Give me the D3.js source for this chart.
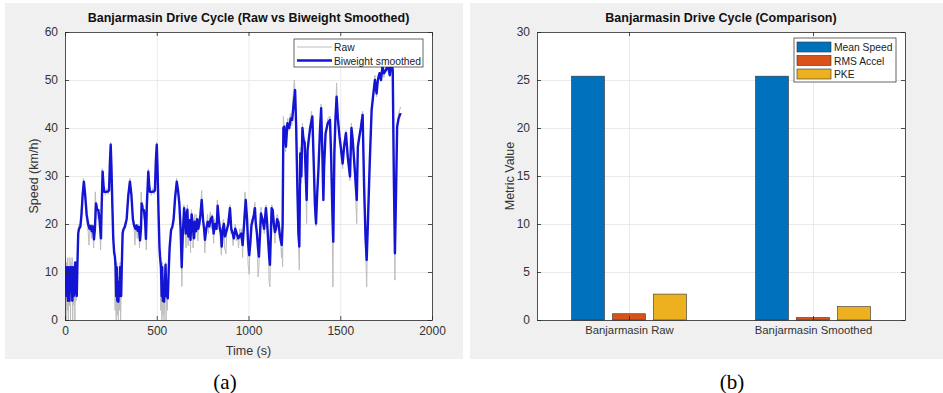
<!DOCTYPE html>
<html>
<head>
<meta charset="utf-8">
<script src="https://cdn.jsdelivr.net/npm/d3@7"></script>
<style>
  body { margin: 0; background: #fff; }
  svg text { font-family: "Liberation Sans", Arial, Helvetica, sans-serif; }
  .axis path, .axis line { stroke: #262626; stroke-width: 0.8px; }
  .axis text { fill: #333; font-size: 12px; }
  .grid line { stroke: #e4e4e4; stroke-width: 0.8px; }
  .grid path { display: none; }
  .title { font-weight: bold; font-size: 12.5px; fill: #111; }
  .label { font-size: 12.5px; fill: #333; }
  .legend text { font-size: 10.3px; fill: #222; }
  .caption { font-family: "Liberation Serif", "Times New Roman", serif !important; font-size: 21px; fill: #000; }
</style>
</head>
<body>
<svg id="fig" width="943" height="393"></svg>
<script>
// ---- panel (a): speed trace, [time s, speed km/h]
const smoothed = [
  [0,6],[4,11],[8,5],[12,11],[16,4],[20,11],[24,4],[28,11],[32,6],[36,11],[40,4],[44,11],[48,5],[52,8],[56,12],[60,6],[64,5],
  [68,12],[72,18],[76,19],[84,19.5],[90,22],[96,26],[103,28.8],[110,26],[118,22],[127,19.8],[134,19],[140,19.6],[146,18.5],
  [152,19.5],[158,16.8],[163,19],[169,24.3],[175,23],[182,22.9],[188,21],[196,17],[200,24],[205,30.9],[210,28],[214,26.7],
  [225,26.7],[235,26.8],[240,27],[245,33],[249,36.5],[253,32],[258,24],[263,17],[268,14],[272,13.2],[276,11],[279,5],[282,11],
  [285,4],[288,8],[291,3.8],[294,7.6],[297,5],[300,11],[303,6],[306,5],[310,12],[314,18],[318,18.8],[326,19.4],[336,21],
  [345,26],[354,28.8],[362,26],[370,21],[376,19.8],[384,19],[390,19.7],[396,18.6],[402,19.4],[409,16.6],[414,19],[418,24.3],
  [424,23],[430,22.9],[436,21],[441,16.9],[446,24],[454,30.9],[459,28],[463,26.7],[475,26.7],[485,26.8],[490,27],[495,33],
  [500,36.5],[504,32],[510,22],[515,15],[518,13.2],[523,11],[527,5],[530,11],[533,4],[536,7.6],[540,3.8],[544,7],[548,11.5],
  [552,5],[556,7],[560,4.5],[565,10],[570,15],[578,18.75],[585,19.4],[592,21],[600,25.5],[609,28.8],[616,27],[623,24.3],
  [630,19],[636,11],[642,18],[649,23.3],[654,21.5],[658,18],[663,21.9],[667,23],[672,17.4],[678,20.8],[684,16.7],[690,22],
  [696,20],[702,17],[708,20.5],[714,18.5],[720,21],[726,19],[732,20],[738,22],[745,25],[752,21],[758,19],[763,16.7],[770,19],
  [778,20.5],[786,19.5],[794,21],[802,21.5],[810,18],[818,20],[826,19],[832,23.8],[838,21],[844,19],[850,18],[854,15.3],
  [860,19],[866,20],[872,17.4],[880,18.5],[890,20],[899,23.3],[906,19],[914,18],[920,17],[928,19],[936,18],[944,17],
  [952,17.5],[960,18],[968,15.6],[976,20],[985,25],[992,21],[998,16],[1004,13.5],[1010,16],[1016,19.7],[1024,21],[1030,22],
  [1035,23.3],[1040,20],[1046,18],[1052,15],[1057,13.2],[1063,18],[1068,22.2],[1076,21],[1085,19],[1095,23.3],[1102,20],
  [1108,16],[1113,13],[1117,11.5],[1122,18],[1126,23.3],[1132,22.9],[1138,20],[1144,18.3],[1150,19],[1156,21],[1163,20.4],
  [1170,18],[1176,16.5],[1181,15.6],[1186,20],[1190,40],[1196,40.3],[1204,36.1],[1212,41],[1222,40],[1230,42],[1238,41.7],
  [1246,45],[1254,47.9],[1260,40],[1266,28],[1272,18],[1277,15.3],[1282,34.7],[1288,29.9],[1294,40],[1300,37.5],[1306,37],
  [1312,30],[1317,25],[1322,35.4],[1328,37.5],[1336,40],[1348,42.4],[1356,32],[1362,24],[1368,20.1],[1374,26],[1381,31.3],
  [1390,40],[1396,44.1],[1403,34],[1408,25],[1412,32],[1420,38.9],[1432,41],[1444,41.7],[1450,34.7],[1456,24],[1462,16.3],
  [1468,34.7],[1474,42],[1480,46.5],[1487,42],[1496,38.2],[1503,36],[1513,32.6],[1521,36.1],[1531,38.9],[1541,34],
  [1553,29.9],[1561,40],[1568,37.5],[1578,32],[1590,25],[1596,36.1],[1604,38.2],[1612,40],[1622,42.7],[1630,27.8],[1638,17],
  [1644,12.5],[1650,19.4],[1660,32],[1671,43.75],[1680,47],[1689,50],[1698,47.2],[1705,50],[1714,51.4],[1722,50],
  [1730,52.8],[1738,51.4],[1748,52],[1760,53],[1770,51],[1780,54],[1786,52],[1792,30],[1798,13.9],[1804,26.4],[1810,40.3],
  [1818,42],[1829,43.1]
];

const raw = [
  [0,6],[3,13],[6,0],[9,12],[12,2],[15,13],[18,0],[21,11],[24,3],[27,13],[30,0],[33,12],[36,4],[39,13],[42,0],[45,11],[48,3],
  [51,12],[54,0],[57,12],[60,4],[64,7],[68,12],[72,17],[76,20],[82,19],[88,23],[94,25],[100,29.5],[104,28],[110,27],[116,21],
  [122,20],[127,18],[131,15.6],[134,20],[140,19],[144,17],[148,20],[152,18],[156,15],[160,19.5],[165,26.7],[170,23],[175,24],
  [180,21],[186,22],[190,18],[194,14.6],[198,20],[203,31.5],[208,27],[214,27.5],[220,26],[228,27.4],[236,26.2],[242,29],
  [249,37],[254,30],[260,20],[266,14],[270,13.5],[273,2],[276,12],[279,0],[282,12],[285,1],[288,9],[291,0],[294,9],[297,2],
  [300,12],[303,0],[306,6],[310,13],[314,17],[318,19],[326,20],[334,21],[342,25],[350,29],[354,29.5],[360,27],[368,22],
  [374,20],[378,18],[381,15.6],[386,20],[390,19],[394,17],[398,20],[403,18],[406,15],[410,19.5],[415,26.7],[420,23],[426,24],
  [430,21],[436,22],[440,18],[443,14.6],[448,23],[454,31.5],[458,27],[463,27.5],[470,26],[478,27.4],[486,26.2],[492,29],
  [500,37],[505,30],[511,20],[516,14],[519,13.5],[522,2],[525,12],[528,0],[531,12],[534,1],[537,9],[540,0],[544,9],[548,12],
  [551,0],[554,8],[557,2],[560,5],[565,11],[570,14],[578,19],[585,19],[592,22],[600,25],[608,29.5],[616,27],[623,25],[630,18],
  [634,13],[637,7],[641,16],[648,24],[652,22],[656,17],[660,15],[663,22],[667,24],[671,15.5],[676,21],[680,20],[684,14],
  [689,23],[694,21],[698,15],[703,18],[707,22],[711,17],[716,22],[720,20],[724,16.5],[728,21],[733,19],[738,23],[745,27],
  [750,21],[756,20],[762,14],[767,18],[772,20],[777,22],[782,18],[788,21],[792,22.5],[797,19],[802,22],[806,20],[810,16],
  [814,21],[820,19],[826,20],[830,25],[836,20],[840,21],[846,17],[852,13.5],[858,20],[864,21],[870,15],[877,13.8],[882,19],
  [888,21],[895,22],[899,24],[904,18],[910,19],[916,15.5],[922,18],[928,20],[934,16.5],[940,18],[946,15],[952,19],[958,17],
  [962,19],[968,13],[974,21],[981,26.7],[988,22],[994,17],[998,11.5],[1004,9.5],[1010,17],[1016,21],[1022,20],[1028,23],
  [1035,24.5],[1040,19],[1046,19],[1052,9],[1057,11],[1062,19],[1068,23.5],[1074,20],[1080,21],[1086,18],[1092,22],
  [1096,24],[1102,19],[1108,17],[1112,8],[1117,6.9],[1122,19],[1127,24],[1133,22],[1138,21],[1144,16],[1150,20],[1156,22],
  [1163,21],[1168,17],[1174,17.5],[1180,13],[1183,15],[1186,11.1],[1190,42.4],[1196,39],[1202,35],[1208,40],[1214,42],
  [1220,39.5],[1228,43],[1236,40.5],[1242,46],[1250,50],[1255,46],[1260,38],[1266,26],[1272,17],[1277,10.4],[1282,36],
  [1288,28.5],[1294,41],[1300,36.5],[1306,38],[1312,28],[1317,20.1],[1322,36],[1328,36.5],[1336,41],[1344,43.5],[1350,40],
  [1356,30],[1362,22],[1368,19.5],[1374,27],[1381,30],[1390,41],[1396,45],[1403,32],[1408,25.6],[1412,33],[1420,38],
  [1432,42],[1444,42.5],[1450,33],[1456,20],[1460,6.9],[1466,36],[1474,41],[1480,49.4],[1487,41],[1496,39],[1503,35],
  [1513,31.5],[1521,37],[1531,39.5],[1541,33],[1553,29],[1561,41],[1568,36.5],[1578,31],[1590,20.1],[1596,37],[1604,37.5],
  [1612,41],[1622,43.5],[1630,26],[1638,15],[1644,6.9],[1650,21],[1660,31],[1671,44.5],[1680,46],[1689,51],[1698,46.5],
  [1705,51],[1714,50.5],[1722,51],[1730,53.5],[1738,50.5],[1748,53],[1760,52],[1770,52],[1780,55],[1786,51],[1792,28],
  [1798,8.3],[1804,28],[1810,39],[1818,43],[1829,44.4]
];

const timeTicks = [0, 500, 1000, 1500, 2000];
const speedTicks = [0, 10, 20, 30, 40, 50, 60];

// ---- panel (b): cycle metrics
const groups = ["Banjarmasin Raw", "Banjarmasin Smoothed"];
const metrics = ["Mean Speed", "RMS Accel", "PKE"];
const meanSpeed = [25.4, 25.4];
const rmsAccel = [0.65, 0.25];
const pke = [2.7, 1.4];
const metricTicks = [0, 5, 10, 15, 20, 25, 30];
const metricColors = ["#0072BD", "#D95319", "#EDB120"];

const svg = d3.select("#fig");

// gray figure backgrounds
svg.append("rect").attr("x", 5).attr("y", 3).attr("width", 458).attr("height", 356).attr("fill", "#f0f0f0");
svg.append("rect").attr("x", 470).attr("y", 3).attr("width", 473).attr("height", 356).attr("fill", "#f0f0f0");

// white plot area + light grid (interior lines only)
function drawFrame(g, x, y, w, h, xt, yt) {
  g.append("rect").attr("width", w).attr("height", h).attr("fill", "#fff");
  g.append("g").attr("class", "grid")
    .attr("transform", `translate(0,${h})`)
    .call(d3.axisBottom(x).tickValues(xt).tickSize(-h).tickFormat(""))
    .selectAll(".tick").filter(d => x(d) <= 1 || x(d) >= w - 1).remove();
  g.append("g").attr("class", "grid")
    .call(d3.axisLeft(y).tickValues(yt).tickSize(-w).tickFormat(""))
    .selectAll(".tick").filter(d => y(d) <= 1 || y(d) >= h - 1).remove();
}

// box axes, ticks pointing inward on all four sides
function drawAxes(g, x, y, w, h, xt, yt, xfmt) {
  g.append("g").attr("class", "axis")
    .attr("transform", `translate(0,${h})`)
    .call(d3.axisBottom(x).tickValues(xt).tickSizeInner(-4).tickSizeOuter(0).tickPadding(6).tickFormat(xfmt));
  g.append("g").attr("class", "axis")
    .call(d3.axisTop(x).tickValues(xt).tickSizeInner(-4).tickSizeOuter(0).tickFormat(""));
  g.append("g").attr("class", "axis")
    .call(d3.axisLeft(y).tickValues(yt).tickSizeInner(-4).tickSizeOuter(0).tickPadding(7));
  g.append("g").attr("class", "axis")
    .attr("transform", `translate(${w},0)`)
    .call(d3.axisRight(y).tickValues(yt).tickSizeInner(-4).tickSizeOuter(0).tickFormat(""));
}

// ================= (a)
const A = { left: 65, top: 32, w: 367, h: 288 };
const ga = svg.append("g").attr("transform", `translate(${A.left},${A.top})`);
const xa = d3.scaleLinear().domain([0, 2000]).range([0, A.w]);
const ya = d3.scaleLinear().domain([0, 60]).range([A.h, 0]);

drawFrame(ga, xa, ya, A.w, A.h, timeTicks, speedTicks);

svg.append("clipPath").attr("id", "clipA")
  .append("rect").attr("width", A.w).attr("height", A.h);

const line = d3.line().x(d => xa(d[0])).y(d => ya(d[1]));
const plotA = ga.append("g").attr("clip-path", "url(#clipA)");
plotA.append("path").datum(raw)
  .attr("d", line).attr("fill", "none").attr("stroke", "#bdbdbd").attr("stroke-width", 1);
plotA.append("path").datum(smoothed)
  .attr("d", line).attr("fill", "none").attr("stroke", "#1414d4").attr("stroke-width", 2.4)
  .attr("stroke-linejoin", "round");

drawAxes(ga, xa, ya, A.w, A.h, timeTicks, speedTicks, d3.format("d"));

ga.append("text").attr("class", "title").attr("x", A.w / 2).attr("y", -10)
  .attr("text-anchor", "middle").text("Banjarmasin Drive Cycle (Raw vs Biweight Smoothed)");
ga.append("text").attr("class", "label").attr("x", A.w / 2).attr("y", A.h + 35)
  .attr("text-anchor", "middle").text("Time (s)");
ga.append("text").attr("class", "label")
  .attr("transform", `translate(-27,${A.h / 2}) rotate(-90)`)
  .attr("text-anchor", "middle").text("Speed (km/h)");

// legend (a)
const la = ga.append("g").attr("class", "legend").attr("transform", `translate(${294 - A.left},${39 - A.top})`);
la.append("rect").attr("width", 129).attr("height", 28).attr("fill", "#fff").attr("stroke", "#262626").attr("stroke-width", 0.7);
const legA = [{ name: "Raw", color: "#bdbdbd", width: 1 }, { name: "Biweight smoothed", color: "#1414d4", width: 2.4 }];
legA.forEach((d, i) => {
  const yy = 8 + i * 13.5;
  la.append("line").attr("x1", 3).attr("x2", 38).attr("y1", yy).attr("y2", yy)
    .attr("stroke", d.color).attr("stroke-width", d.width);
  la.append("text").attr("x", 40).attr("y", yy + 4).text(d.name);
});

// ================= (b)
const B = { left: 537, top: 32, w: 368, h: 288 };
const gb = svg.append("g").attr("transform", `translate(${B.left},${B.top})`);
const xb = d3.scaleLinear().domain([0.5, 2.5]).range([0, B.w]);
const yb = d3.scaleLinear().domain([0, 30]).range([B.h, 0]);
const x1 = d3.scaleBand().domain(metrics).range([-57.5, 57.5]).paddingInner(0.195);

drawFrame(gb, xb, yb, B.w, B.h, [1, 2], metricTicks);

const rows = groups.map((g, i) => ({ group: g, pos: i + 1, vals: [meanSpeed[i], rmsAccel[i], pke[i]] }));
gb.selectAll(".grp").data(rows).enter().append("g")
  .attr("transform", d => `translate(${xb(d.pos)},0)`)
  .selectAll("rect").data(d => d.vals.map((v, j) => ({ key: metrics[j], v: v, c: metricColors[j] })))
  .enter().append("rect")
  .attr("x", d => x1(d.key))
  .attr("width", x1.bandwidth())
  .attr("y", d => yb(d.v))
  .attr("height", d => yb(0) - yb(d.v))
  .attr("fill", d => d.c)
  .attr("stroke", "#333")
  .attr("stroke-width", 0.6);

drawAxes(gb, xb, yb, B.w, B.h, [1, 2], metricTicks, d => groups[d - 1]);
gb.selectAll(".axis text").filter(d => d === 1 || d === 2).style("font-size", "11.3px");

gb.append("text").attr("class", "title").attr("x", B.w / 2).attr("y", -10)
  .attr("text-anchor", "middle").text("Banjarmasin Drive Cycle (Comparison)");
gb.append("text").attr("class", "label")
  .attr("transform", `translate(-23,${B.h / 2}) rotate(-90)`)
  .attr("text-anchor", "middle").text("Metric Value");

// legend (b)
const lb = gb.append("g").attr("class", "legend").attr("transform", `translate(${794 - B.left},${38 - B.top})`);
lb.append("rect").attr("width", 102).attr("height", 44).attr("fill", "#fff").attr("stroke", "#262626").attr("stroke-width", 0.7);
metrics.forEach((m, i) => {
  const yy = 9 + i * 13.5;
  lb.append("rect").attr("x", 3).attr("y", yy - 5).attr("width", 34).attr("height", 10)
    .attr("fill", metricColors[i]).attr("stroke", "#333").attr("stroke-width", 0.6);
  lb.append("text").attr("x", 40).attr("y", yy + 4).text(m);
});

// captions
svg.append("text").attr("class", "caption").attr("x", 225).attr("y", 389).attr("text-anchor", "middle").text("(a)");
svg.append("text").attr("class", "caption").attr("x", 732).attr("y", 389).attr("text-anchor", "middle").text("(b)");
</script>
</body>
</html>
